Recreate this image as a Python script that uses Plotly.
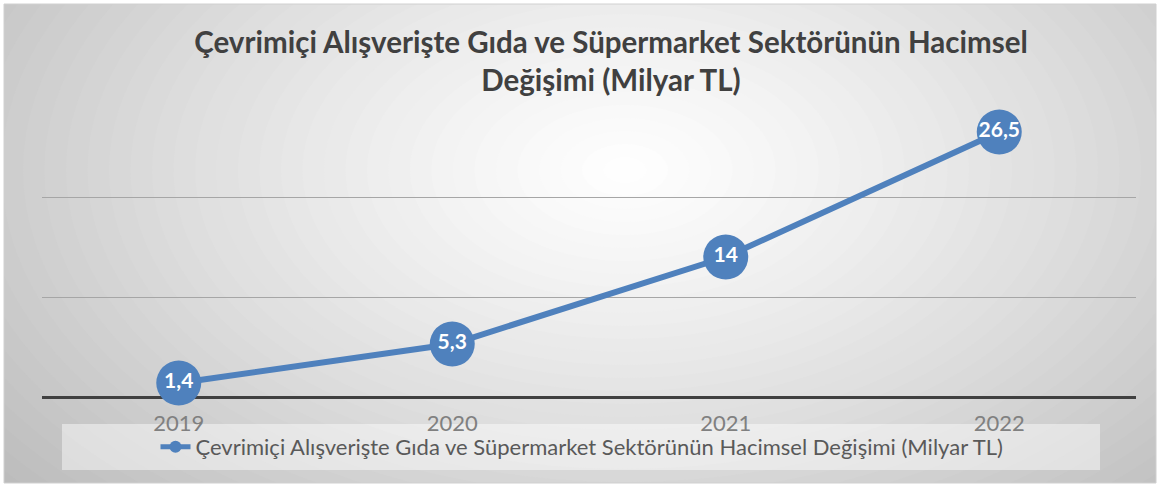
import plotly.graph_objects as go

years = ["2019", "2020", "2021", "2022"]
values = [1.4, 5.3, 14, 26.5]
labels = ["1,4", "5,3", "14", "26,5"]
series_name = "Çevrimiçi Alışverişte Gıda ve Süpermarket Sektörünün Hacimsel Değişimi (Milyar TL)"
title_text = "Çevrimiçi Alışverişte Gıda ve Süpermarket Sektörünün Hacimsel<br>Değişimi (Milyar TL)"

W, H = 1160, 485
L, R, T, B = 42, 24, 97, 88
pw, ph = W - L - R, H - T - B

def px_x(x):
    return (x - L) / pw

def px_y(y):
    return (H - B - y) / ph

BLUE = "#4f81bd"

fig = go.Figure()
fig.add_trace(go.Scatter(
    x=years, y=values, mode="lines+markers+text",
    name=series_name,
    text=labels, textposition="middle center",
    textfont=dict(family="Lato", size=21, color="white", weight="bold"),
    line=dict(color=BLUE, width=6),
    marker=dict(size=45, color=BLUE),
    showlegend=False, cliponaxis=False, hoverinfo="skip",
))
# legend entry
fig.add_trace(go.Scatter(
    x=[None], y=[None], mode="lines+markers", name=series_name,
    line=dict(color=BLUE, width=5), marker=dict(size=12, color=BLUE),
))

shapes = []
# radial gradient background via concentric ellipses
cx, cy = 625, 170
rx_max, ry_max = 860, 520
n = 40
c_out, c_in = 0xB8, 0xFF
for i in range(n):
    f = 1 - i / n
    rx, ry = rx_max * f, ry_max * f
    c = int(c_in + (c_out - c_in) * (f ** 1.2))
    col = f"rgb({c},{c},{c})"
    shapes.append(dict(type="circle", xref="paper", yref="paper",
                       x0=px_x(cx - rx), x1=px_x(cx + rx),
                       y0=px_y(cy + ry), y1=px_y(cy - ry),
                       fillcolor=col, line=dict(width=0), layer="below"))
# white outer frame strips
for (x0, y0, x1, y1) in [(-10, -10, W + 10, 4), (-10, 483, W + 10, H + 10),
                         (-10, -10, 4, H + 10), (1156, -10, W + 10, H + 10)]:
    shapes.append(dict(type="rect", xref="paper", yref="paper",
                       x0=px_x(x0), x1=px_x(x1), y0=px_y(y1), y1=px_y(y0),
                       fillcolor="white", line=dict(width=0), layer="below"))
# border
shapes.append(dict(type="rect", xref="paper", yref="paper",
                   x0=px_x(4), x1=px_x(1156), y0=px_y(483), y1=px_y(4),
                   fillcolor="rgba(0,0,0,0)", line=dict(color="#d0d0d0", width=1), layer="below"))
# legend box
shapes.append(dict(type="rect", xref="paper", yref="paper",
                   x0=px_x(62), x1=px_x(1100), y0=px_y(470), y1=px_y(424),
                   fillcolor="rgba(255,255,255,0.45)", line=dict(width=0), layer="below"))

fig.update_layout(
    width=W, height=H,
    margin=dict(l=L, r=R, t=T, b=B),
    paper_bgcolor="white", plot_bgcolor="rgba(0,0,0,0)",
    shapes=shapes,
    title=dict(text=title_text, x=611 / W, xanchor="center", y=1 - 53 / H, yanchor="middle",
               font=dict(family="Lato", size=29.5, color="#404040", weight="bold")),
    xaxis=dict(type="category", range=[-0.5, 3.5], showgrid=False, showline=False, ticks="",
               tickfont=dict(family="Lato", size=22, color="#808080"),
               ticklabelstandoff=11),
    yaxis=dict(range=[0, 30], dtick=10, showticklabels=False, showgrid=True,
               gridcolor="#a6a6a6", gridwidth=1.3, zeroline=True,
               zerolinecolor="#404040", zerolinewidth=3, showline=False),
    legend=dict(orientation="h", x=px_x(582), xanchor="center", y=px_y(447), yanchor="middle",
                bgcolor="rgba(0,0,0,0)", font=dict(family="Lato", size=22, color="#595959")),
    showlegend=True,
    hovermode=False,
)

fig.write_html("out.html", config={"displayModeBar": False},
               post_script="document.body.style.margin='0';")
